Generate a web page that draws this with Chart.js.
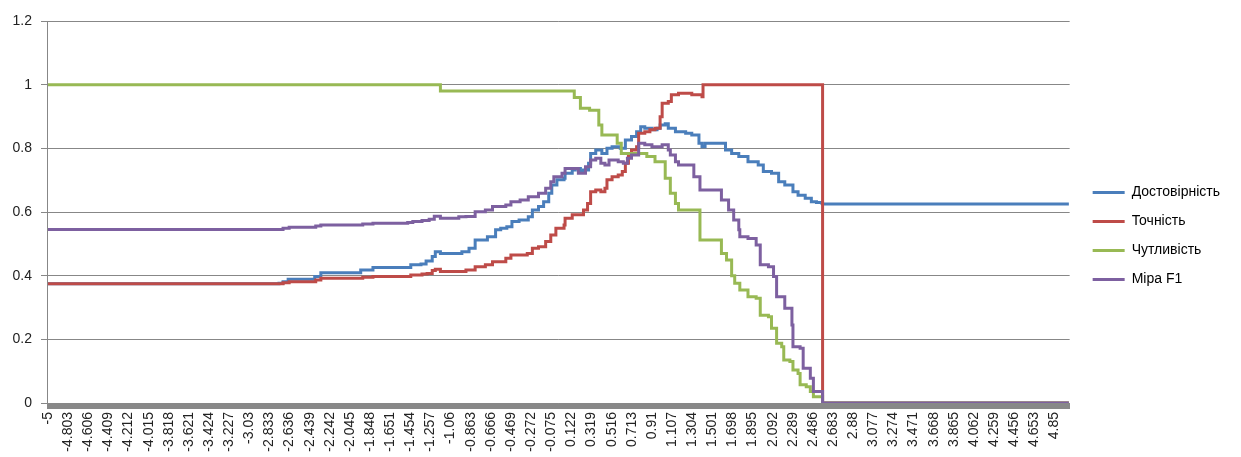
<!DOCTYPE html>
<html>
<head>
<meta charset="utf-8">
<script src="https://cdn.jsdelivr.net/npm/chart.js@4.4.1/dist/chart.umd.min.js"></script>
<style>
  html, body { margin: 0; padding: 0; background: #fff; overflow: hidden; }
  #wrap { width: 1241px; height: 457px; }
</style>
</head>
<body>
<div id="wrap"><canvas id="chart"></canvas></div>
<script>
// labelled thresholds on the x axis (every 10th category)
const xTickLabels = ['-5', '-4.803', '-4.606', '-4.409', '-4.212', '-4.015', '-3.818', '-3.621', '-3.424', '-3.227',
  '-3.03', '-2.833', '-2.636', '-2.439', '-2.242', '-2.045', '-1.848', '-1.651', '-1.454', '-1.257',
  '-1.06', '-0.863', '-0.666', '-0.469', '-0.272', '-0.075', '0.122', '0.319', '0.516', '0.713',
  '0.91', '1.107', '1.304', '1.501', '1.698', '1.895', '2.092', '2.289', '2.486', '2.683',
  '2.88', '3.077', '3.274', '3.471', '3.668', '3.865', '4.062', '4.259', '4.456', '4.653', '4.85'];
const yTicks = [0, 0.2, 0.4, 0.6, 0.8, 1, 1.2];

const seriesNames = ['Достовірність', 'Точність', 'Чутливість', 'Міра F1'];

// Достовірність
const accX = [-5, -2.74, -2.70, -2.65, -2.43, -2.39, -2.33, -1.95, -1.94, -1.82, -1.48, -1.45, -1.35, -1.30, -1.24, -1.21, -1.16, -1.04, -0.95, -0.88,
  -0.82, -0.70, -0.62, -0.57, -0.51, -0.46, -0.39, -0.30, -0.26, -0.20, -0.15, -0.10, -0.07, -0.02, 0.05, 0.06, 0.13, 0.16, 0.21, 0.24,
  0.29, 0.31, 0.36, 0.42, 0.47, 0.52, 0.60, 0.65, 0.71, 0.76, 0.80, 0.84, 0.91, 0.96, 0.99, 1.04, 1.07, 1.14, 1.24, 1.30,
  1.37, 1.40, 1.43, 1.56, 1.63, 1.69, 1.76, 1.85, 1.95, 2.00, 2.08, 2.15, 2.21, 2.29, 2.34, 2.41, 2.47, 2.52, 2.57, 2.58, 4.99];
const accY = [0.375, 0.376, 0.381, 0.389, 0.389, 0.397, 0.409, 0.409, 0.418, 0.426, 0.426, 0.434, 0.437, 0.446, 0.46, 0.475, 0.47, 0.47, 0.475, 0.486,
  0.512, 0.522, 0.544, 0.549, 0.554, 0.57, 0.575, 0.585, 0.606, 0.617, 0.632, 0.659, 0.685, 0.701, 0.706, 0.722, 0.732, 0.737, 0.727, 0.732,
  0.753, 0.784, 0.795, 0.784, 0.8, 0.805, 0.8, 0.826, 0.837, 0.852, 0.868, 0.863, 0.858, 0.863, 0.873, 0.877, 0.863, 0.852, 0.847, 0.842,
  0.816, 0.805, 0.816, 0.816, 0.795, 0.784, 0.774, 0.758, 0.748, 0.727, 0.722, 0.695, 0.685, 0.664, 0.653, 0.643, 0.632, 0.63, 0.628, 0.625, 0.625];

// Точність
const precX = [-5, -2.74, -2.70, -2.64, -2.38, -2.33, -1.92, -1.82, -1.45, -1.34, -1.29, -1.24, -1.21, -1.16, -0.91, -0.82, -0.72, -0.65, -0.52, -0.47,
  -0.31, -0.26, -0.20, -0.13, -0.08, -0.03, 0.05, 0.06, 0.13, 0.21, 0.24, 0.28, 0.31, 0.36, 0.41, 0.45, 0.47, 0.52, 0.58, 0.62,
  0.65, 0.68, 0.71, 0.76, 0.78, 0.84, 0.89, 0.94, 0.99, 1.01, 1.07, 1.10, 1.17, 1.30, 1.40, 1.41, 2.57, 2.58, 4.99];
const precY = [0.375, 0.375, 0.378, 0.381, 0.386, 0.392, 0.395, 0.397, 0.402, 0.405, 0.407, 0.416, 0.42, 0.413, 0.418, 0.428, 0.434, 0.444, 0.455, 0.465,
  0.47, 0.486, 0.491, 0.507, 0.528, 0.549, 0.559, 0.58, 0.591, 0.591, 0.606, 0.627, 0.664, 0.669, 0.664, 0.675, 0.701, 0.711, 0.716, 0.727,
  0.753, 0.774, 0.795, 0.805, 0.847, 0.852, 0.858, 0.863, 0.899, 0.942, 0.947, 0.968, 0.973, 0.968, 0.962, 1, 1, 0, 0];

// Чутливість
const recX = [-5, -1.17, -1.16, 0.12, 0.15, 0.21, 0.30, 0.39, 0.42, 0.52, 0.57, 0.61, 0.78, 0.86, 0.94, 1.04, 1.09, 1.14, 1.17, 1.30,
  1.38, 1.56, 1.59, 1.64, 1.69, 1.72, 1.77, 1.85, 1.93, 1.97, 2.05, 2.08, 2.13, 2.18, 2.20, 2.26, 2.29, 2.34, 2.36, 2.42,
  2.46, 2.49, 2.57, 2.58, 4.99];
const recY = [1, 1, 0.98, 0.98, 0.96, 0.926, 0.92, 0.873, 0.842, 0.842, 0.816, 0.784, 0.784, 0.774, 0.758, 0.706, 0.659, 0.627, 0.606, 0.606,
  0.512, 0.512, 0.47, 0.449, 0.4, 0.376, 0.355, 0.334, 0.329, 0.276, 0.271, 0.235, 0.188, 0.177, 0.135, 0.13, 0.104, 0.093, 0.057, 0.051,
  0.036, 0.02, 0.02, 0, 0];

// Міра F1
const f1X = [-5, -2.74, -2.70, -2.64, -2.38, -2.33, -1.92, -1.82, -1.48, -1.43, -1.34, -1.27, -1.22, -1.16, -0.98, -0.91, -0.82, -0.72, -0.65, -0.52,
  -0.47, -0.38, -0.30, -0.20, -0.13, -0.08, -0.05, 0.03, 0.06, 0.14, 0.19, 0.26, 0.31, 0.36, 0.41, 0.45, 0.49, 0.58, 0.63, 0.67,
  0.71, 0.78, 0.84, 0.91, 1.01, 1.07, 1.09, 1.14, 1.17, 1.28, 1.32, 1.38, 1.54, 1.59, 1.66, 1.71, 1.76, 1.77, 1.85, 1.93,
  1.97, 2.05, 2.10, 2.13, 2.21, 2.28, 2.29, 2.36, 2.39, 2.46, 2.49, 2.57, 2.58, 4.99];
const f1Y = [0.545, 0.545, 0.549, 0.552, 0.556, 0.559, 0.562, 0.565, 0.567, 0.57, 0.573, 0.577, 0.587, 0.58, 0.585, 0.586, 0.601, 0.606, 0.617, 0.622,
  0.632, 0.638, 0.648, 0.659, 0.675, 0.695, 0.711, 0.722, 0.737, 0.737, 0.722, 0.742, 0.763, 0.769, 0.753, 0.748, 0.763, 0.758, 0.753, 0.769,
  0.779, 0.816, 0.811, 0.805, 0.811, 0.795, 0.779, 0.758, 0.748, 0.748, 0.711, 0.669, 0.669, 0.638, 0.606, 0.575, 0.544, 0.522, 0.517, 0.496,
  0.434, 0.428, 0.397, 0.334, 0.298, 0.245, 0.177, 0.172, 0.109, 0.078, 0.036, 0.036, 0, 0];

const colors = ['#4A7EBB', '#BE4B48', '#98B954', '#7D60A0'];

// threshold step between categories (10 of them per labelled tick)
const step = 0.0197;
const nCats = 508;

function pts(xs, ys) {
  return xs.map((x, i) => ({ x: x, y: ys[i] }));
}

const series = [[accX, accY], [precX, precY], [recX, recY], [f1X, f1Y]];
const datasets = series.map((s, i) => ({
  label: seriesNames[i],
  data: pts(s[0], s[1]),
  borderColor: colors[i],
  backgroundColor: colors[i],
  borderWidth: 3,
  pointRadius: 0,
  stepped: 'before',
  order: 3 - i  // later series drawn on top, like the original
}));

const gridColor = '#878787';
const textColor = '#222';

// nudge the legend a little right and up after layout
const legendNudge = {
  id: 'legendNudge',
  afterLayout(chart) {
    const lg = chart.legend;
    if (!lg) return;
    lg.left += 8; lg.right += 8;
    lg.top -= 3; lg.bottom -= 3;
  }
};

new Chart(document.getElementById('chart'), {
  type: 'line',
  data: { datasets },
  plugins: [legendNudge],
  options: {
    responsive: true,
    maintainAspectRatio: false,
    animation: false,
    layout: { padding: { top: 21, left: 0, right: 19, bottom: 0 } },
    plugins: {
      tooltip: { enabled: false },
      legend: {
        position: 'right',
        reverse: true,
        labels: {
          boxWidth: 32,
          boxHeight: 3,
          padding: 15,
          color: '#000',
          font: { family: 'Liberation Sans', size: 14 },
          generateLabels: (chart) => Chart.defaults.plugins.legend.labels.generateLabels(chart)
            .map(item => Object.assign(item, { lineWidth: 0, fillStyle: item.strokeStyle }))
        }
      }
    },
    scales: {
      x: {
        type: 'linear',
        min: -5 - step / 2,
        max: -5 + (nCats - 0.5) * step,
        afterBuildTicks: (scale) => {
          const t = [];
          for (let j = 0; j < nCats; j++) t.push({ value: -5 + j * step });
          scale.ticks = t;
        },
        afterFit: (scale) => { scale.height = 54; },
        ticks: {
          autoSkip: false,
          maxRotation: 90,
          minRotation: 90,
          padding: 3,
          color: textColor,
          font: { family: 'Liberation Sans', size: 14 },
          callback: (value, index) => (index % 10 === 0 ? xTickLabels[index / 10] : '')
        },
        grid: {
          drawOnChartArea: false,
          drawTicks: true,
          tickLength: 6,
          tickWidth: 3,
          tickColor: '#888'
        },
        border: { display: true, color: '#888', width: 1 }
      },
      y: {
        min: 0,
        max: 1.2,
        afterBuildTicks: (scale) => { scale.ticks = yTicks.map(v => ({ value: v })); },
        afterFit: (scale) => { scale.width = 47; },
        ticks: {
          padding: 9,
          color: textColor,
          font: { family: 'Liberation Sans', size: 14 },
          callback: (value) => String(parseFloat(value.toFixed(1)))
        },
        grid: {
          color: gridColor,
          lineWidth: 1,
          tickLength: 6,
          tickColor: gridColor
        },
        border: { display: true, color: gridColor, width: 1 }
      }
    }
  }
});
</script>
</body>
</html>
